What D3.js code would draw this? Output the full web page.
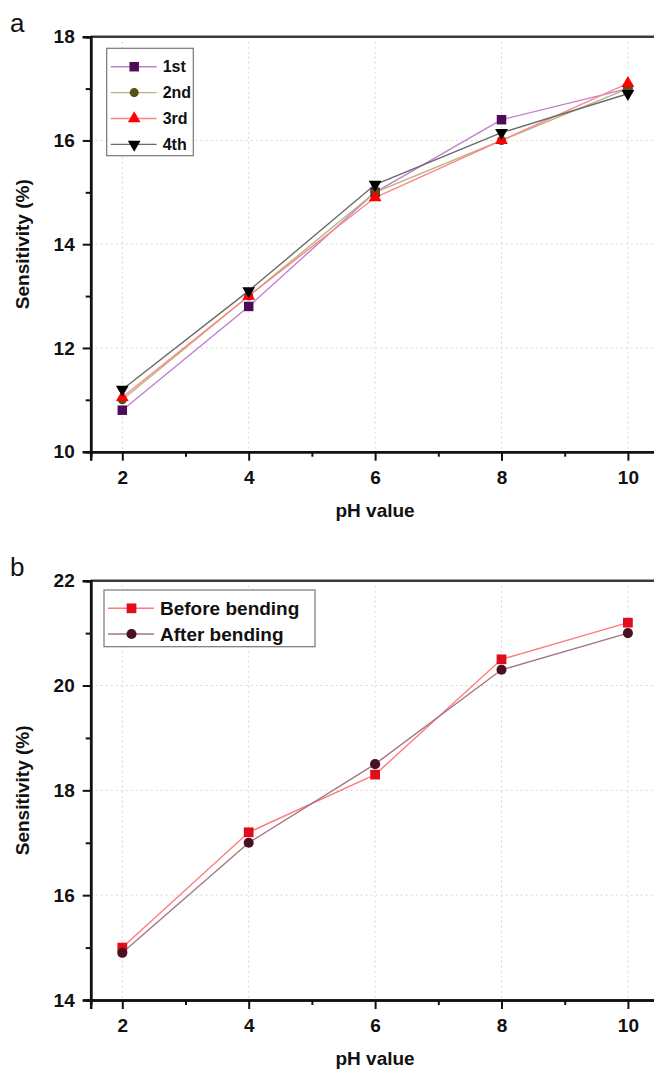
<!DOCTYPE html>
<html>
<head>
<meta charset="utf-8">
<script src="https://cdn.jsdelivr.net/npm/d3@7"></script>
<style>
  body { margin: 0; background: #fff; }
  svg { display: block; font-family: "Liberation Sans", Arial, sans-serif; }
</style>
</head>
<body>
<svg id="chart" width="654" height="1069"></svg>
<script>
// pH values shared by both panels
const phValues = [2, 4, 6, 8, 10];

// panel a: four repeated runs
const run1st = [10.8, 12.8, 15.0, 16.4, 17.0];
const run2nd = [11.0, 13.0, 15.0, 16.0, 17.0];
const run3rd = [11.05, 13.0, 14.9, 16.0, 17.1];
const run4th = [11.2, 13.1, 15.15, 16.15, 16.9];

// panel b: before / after bending
const beforeBending = [15.0, 17.2, 18.3, 20.5, 21.2];
const afterBending = [14.9, 17.0, 18.5, 20.3, 21.0];

const xTicks = [2, 4, 6, 8, 10];
const yTicksA = [10, 12, 14, 16, 18];
const yTicksB = [14, 16, 18, 20, 22];

const svg = d3.select('#chart');

const drawPanel = (opt) => {
  const g = svg.append('g');
  const x = d3.scaleLinear().domain([1.5, 10.5]).range([90.7, 659.5]);
  const y = d3.scaleLinear().domain(opt.yDomain).range([opt.bottom, opt.top]);

  // dotted grid
  g.append('g').selectAll('line')
    .data(xTicks).enter().append('line')
    .attr('x1', d => x(d)).attr('x2', d => x(d))
    .attr('y1', opt.top).attr('y2', opt.bottom)
    .attr('stroke', '#d8d8d8').attr('stroke-width', 1).attr('stroke-dasharray', '2,3');
  g.append('g').selectAll('line')
    .data(opt.yTicks.slice(1, -1)).enter().append('line')
    .attr('x1', x.range()[0]).attr('x2', x.range()[1])
    .attr('y1', d => y(d)).attr('y2', d => y(d))
    .attr('stroke', '#d8d8d8').attr('stroke-width', 1).attr('stroke-dasharray', '2,3');

  // top frame
  g.append('line')
    .attr('x1', x.range()[0]).attr('x2', x.range()[1])
    .attr('y1', opt.top).attr('y2', opt.top)
    .attr('stroke', '#3a3a3a').attr('stroke-width', 2.5);

  // minor ticks
  const xMinor = d3.range(3, 11, 2);
  const yMinor = d3.range(opt.yDomain[0] + 1, opt.yDomain[1], 2);
  g.append('g').attr('transform', `translate(0,${opt.bottom})`)
    .call(d3.axisBottom(x).tickValues(xMinor).tickSize(5).tickFormat(''));
  g.append('g').attr('transform', `translate(${x.range()[0]},0)`)
    .call(d3.axisLeft(y).tickValues(yMinor).tickSize(5).tickFormat(''));

  const xAxis = d3.axisBottom(x).tickValues(xTicks).tickSize(9).tickPadding(9).tickFormat(d3.format('d'));
  const yAxis = d3.axisLeft(y).tickValues(opt.yTicks).tickSize(8).tickPadding(8).tickFormat(d3.format('d'));

  const gx = g.append('g').attr('transform', `translate(0,${opt.bottom})`).call(xAxis);
  const gy = g.append('g').attr('transform', `translate(${x.range()[0]},0)`).call(yAxis);

  g.selectAll('.domain').attr('stroke', '#111').attr('stroke-width', 2.5);
  g.selectAll('.tick line').attr('stroke', '#111').attr('stroke-width', 2);
  [gx, gy].forEach(a => a.selectAll('.tick text')
    .attr('fill', '#111').style('font-size', '19px').style('font-weight', 'bold'));
  gx.selectAll('.tick text').attr('dy', '0.75em');

  // axis titles
  g.append('text')
    .attr('x', (90.7 + 659.5) / 2).attr('y', opt.bottom + 65)
    .attr('text-anchor', 'middle')
    .style('font-size', '19px').style('font-weight', 'bold').attr('fill', '#111')
    .text('pH value');
  g.append('text')
    .attr('transform', `translate(29,${(opt.top + opt.bottom) / 2}) rotate(-90)`)
    .attr('text-anchor', 'middle')
    .style('font-size', '19px').style('font-weight', 'bold').attr('fill', '#111')
    .text('Sensitivity (%)');

  // panel letter
  g.append('text')
    .attr('x', 10).attr('y', opt.top - 5)
    .style('font-size', '26px').attr('fill', '#111')
    .text(opt.letter);

  const line = d3.line().x((d, i) => x(phValues[i])).y(d => y(d));

  opt.series.forEach(s => {
    g.append('path')
      .datum(s.values)
      .attr('fill', 'none')
      .attr('stroke', s.line)
      .attr('stroke-width', 1.4)
      .attr('d', line);
  });
  opt.series.forEach(s => {
    g.append('g').selectAll('path')
      .data(s.values).enter().append('path')
      .attr('transform', (d, i) => `translate(${x(phValues[i])},${y(d)})${s.rotate ? ' rotate(180)' : ''}`)
      .attr('d', d3.symbol().type(s.symbol).size(s.size))
      .attr('fill', s.fill);
  });

  // legend
  const lg = g.append('g').attr('transform', `translate(${opt.legend.x},${opt.legend.y})`);
  lg.append('rect')
    .attr('width', opt.legend.w).attr('height', opt.legend.h)
    .attr('fill', '#fff').attr('stroke', '#777').attr('stroke-width', 1.2);
  opt.series.forEach((s, i) => {
    const row = lg.append('g').attr('transform', `translate(0,${opt.legend.first + i * opt.legend.step})`);
    row.append('line').attr('x1', 4).attr('x2', 50).attr('stroke', s.line).attr('stroke-width', 1.4);
    row.append('path')
      .attr('transform', `translate(27.5,0)${s.rotate ? ' rotate(180)' : ''}`)
      .attr('d', d3.symbol().type(s.symbol).size(s.size))
      .attr('fill', s.fill);
    row.append('text')
      .attr('x', 56).attr('dy', '0.36em')
      .style('font-size', opt.legend.font).style('font-weight', 'bold').attr('fill', '#111')
      .text(s.name);
  });
};

drawPanel({
  letter: 'a', top: 36.7, bottom: 451.7, yDomain: [10, 18], yTicks: yTicksA,
  legend: { x: 106.7, y: 48.3, w: 86.6, h: 107.4, first: 18.4, step: 25.9, font: '16px' },
  series: [
    { name: '1st', values: run1st, line: '#c27fd0', fill: '#4f0b5a', symbol: d3.symbolSquare, size: 90 },
    { name: '2nd', values: run2nd, line: '#b6b57c', fill: '#555213', symbol: d3.symbolCircle, size: 65 },
    { name: '3rd', values: run3rd, line: '#ff8585', fill: '#ff0000', symbol: d3.symbolTriangle, size: 70 },
    { name: '4th', values: run4th, line: '#6a6a6a', fill: '#000000', symbol: d3.symbolTriangle, size: 70, rotate: true }
  ]
});

drawPanel({
  letter: 'b', top: 580.7, bottom: 1000, yDomain: [14, 22], yTicks: yTicksB,
  legend: { x: 104, y: 590, w: 211, h: 56.7, first: 18.3, step: 25.7, font: '19px' },
  series: [
    { name: 'Before bending', values: beforeBending, line: '#ff7b7b', fill: '#e20d1c', symbol: d3.symbolSquare, size: 95 },
    { name: 'After bending', values: afterBending, line: '#a27686', fill: '#4b1023', symbol: d3.symbolCircle, size: 80 }
  ]
});
</script>
</body>
</html>
